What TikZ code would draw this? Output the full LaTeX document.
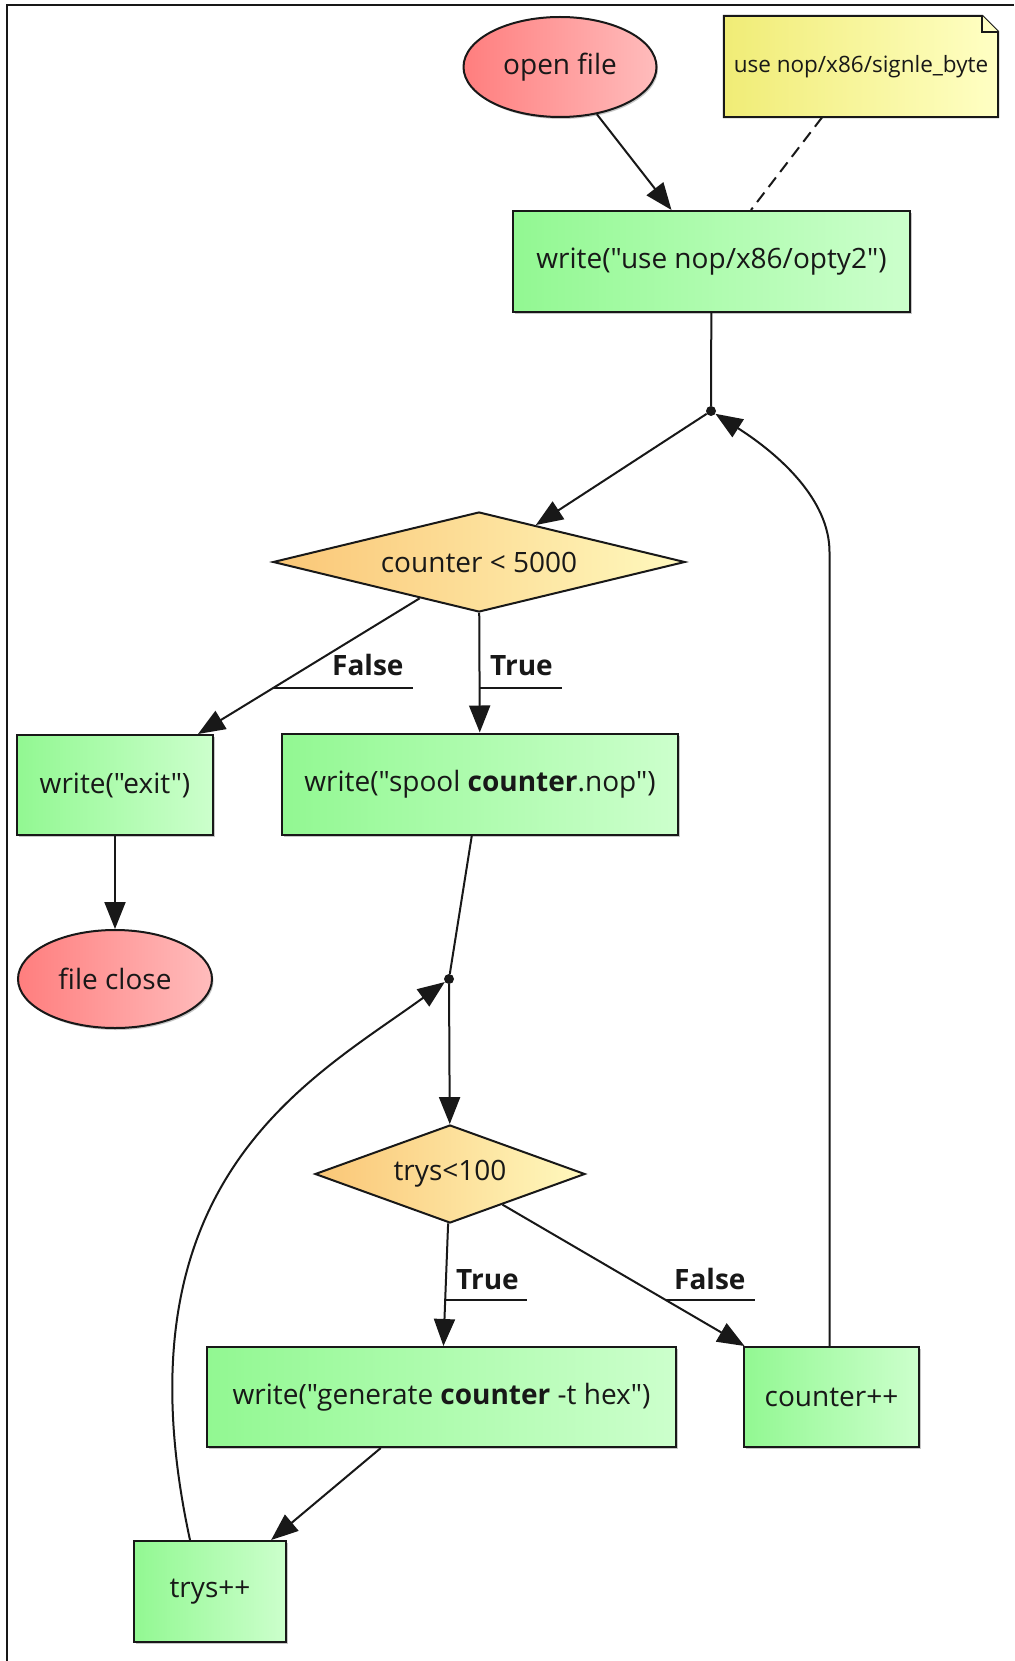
\documentclass[tikz,border=0pt]{standalone}
\usepackage{fontspec}
\setmainfont{Open Sans}[Ligatures=TeXOff]
\usetikzlibrary{shapes.geometric,arrows.meta,calc,backgrounds,shadows}

\definecolor{boxL}{RGB}{146,248,146}
\definecolor{boxR}{RGB}{204,255,204}
\definecolor{ellL}{RGB}{255,126,126}
\definecolor{ellR}{RGB}{255,188,188}
\definecolor{decL}{RGB}{250,198,118}
\definecolor{decR}{RGB}{255,249,190}
\definecolor{noteL}{RGB}{240,236,118}
\definecolor{noteR}{RGB}{255,255,196}
\definecolor{ink}{RGB}{24,24,24}

\tikzset{
  base/.style={draw=ink, line width=2pt, inner sep=0pt, text=ink,
    font=\fontsize{28}{33}\selectfont},
  softshadow/.style={drop shadow={shadow xshift=1.5pt, shadow yshift=-2pt,
    fill=black, opacity=0.22}},
  procbox/.style={base, rectangle, left color=boxL, right color=boxR,
    minimum height=100pt, softshadow},
  terminal/.style={base, ellipse, left color=ellL, right color=ellR,
    minimum width=193pt, minimum height=100pt, softshadow},
  decision/.style={base, diamond, left color=decL, right color=decR},
  notebox/.style={rectangle, inner sep=0pt, text=ink,
    font=\fontsize{22.5}{26}\selectfont, minimum width=274pt, minimum height=101pt},
  joint/.style={circle, fill=ink, inner sep=0pt, minimum size=10pt},
  plain/.style={line width=2pt, draw=ink},
  arr/.style={plain, -{Triangle[length=27pt,width=21pt]}},
  branch/.style={font=\bfseries\fontsize{28}{33}\selectfont, text=ink,
    anchor=base west, inner sep=0pt},
  uline/.style={line width=1.6pt, draw=ink},
}

\begin{document}
\begin{tikzpicture}[x=1pt, y=-1pt]
  % page
  \begin{scope}[on background layer]
    \fill[white] (0,0) rectangle (1014,1661);
  \end{scope}
  \useasboundingbox (0,0) rectangle (1014,1661);
  \draw[line width=2pt, ink] (7,1661) -- (7,5) -- (1014,5);

  % nodes
  \node[terminal] (open) at (560,67) {open file};
  \node[notebox] (note) at (861,66.5) {use nop/x86/signle\_byte};
  \node[procbox, minimum width=397pt, minimum height=101pt] (opty) at (711.5,261.5)
    {write("use nop/x86/opty2")};
  \node[joint] (d1) at (711,411) {};
  \node[decision, aspect=4.12, minimum width=412pt, minimum height=100pt] (c1)
    at (479,562) {counter < 5000};
  \node[procbox, minimum width=196pt] (exit) at (115,785) {write("exit")};
  \node[procbox, minimum width=396pt, minimum height=101pt] (spool) at (480,784)
    {write("spool \textbf{counter}.nop")};
  \node[terminal, minimum width=194pt, minimum height=98pt] (close) at (115,979)
    {file close};
  \node[joint] (d2) at (449,979) {};
  \node[decision, aspect=2.76, minimum width=270pt, minimum height=98pt] (c2)
    at (450,1174) {trys<100};
  \node[procbox, minimum width=469pt] (gen) at (441.5,1397)
    {write("generate \textbf{counter} -t hex")};
  \node[procbox, minimum width=175pt] (cpp) at (831.5,1397) {counter++};
  \node[procbox, minimum width=152pt, minimum height=101pt] (tpp) at (210,1591.5)
    {trys++};

  % note outline with folded corner
  \begin{scope}[on background layer]
    \fill[black, opacity=0.22, xshift=1.5pt, yshift=-2pt]
      (note.south west) -- (note.north west) -- ([xshift=-16pt]note.north east)
      -- ([yshift=-16pt]note.north east) -- (note.south east) -- cycle;
    \draw[line width=2pt, draw=ink, left color=noteL, right color=noteR]
      (note.south west) -- (note.north west) -- ([xshift=-16pt]note.north east)
      -- ([yshift=-16pt]note.north east) -- (note.south east) -- cycle;
    \draw[line width=1.6pt, draw=ink, fill=noteR]
      ([xshift=-16pt]note.north east) -- ([xshift=-16pt,yshift=-16pt]note.north east)
      -- ([yshift=-16pt]note.north east);
  \end{scope}

  % connectors
  \draw[arr] (open) -- (opty);
  \draw[plain, dash pattern=on 12pt off 7pt] (note) -- (opty);
  \draw[plain] (opty) -- (d1);
  \draw[arr] (d1) -- (c1);
  \draw[arr] (c1) -- (exit);
  \draw[arr] (c1) -- (spool);
  \draw[arr] (exit) -- (close);
  \draw[plain] (spool) -- (d2);
  \draw[arr] (d2) -- (c2);
  \draw[arr] (c2) -- (gen);
  \draw[arr] (c2) -- (cpp);
  \draw[arr] (gen) -- (tpp);
  \draw[arr] ([xshift=-2pt]cpp.north) -- ++(0,-794)
    .. controls ++(0,-52) and (780,455) .. (d1);
  \draw[arr] ([xshift=-20pt]tpp.north) .. controls (112,1180) and (310,1080) .. (d2);

  % branch labels
  \coordinate (f1) at ($(c1)!0.565!(exit)$);
  \node[branch] (lf1) at (332,675) {False};
  \coordinate (ef1) at ($(lf1.base east)+(9,0)$);
  \draw[uline] (f1) -- (f1 -| ef1);

  \coordinate (t1) at ($(c1)!0.5676!(spool)$);
  \node[branch] (lt1) at (490,675) {True};
  \coordinate (et1) at ($(lt1.base east)+(9,0)$);
  \draw[uline] (t1) -- (t1 -| et1);

  \coordinate (t2) at ($(c2)!0.565!(gen)$);
  \node[branch] (lt2) at (456,1289) {True};
  \coordinate (et2) at ($(lt2.base east)+(8,0)$);
  \draw[uline] (t2) -- (t2 -| et2);

  \coordinate (f2) at ($(c2)!0.565!(cpp)$);
  \node[branch] (lf2) at (674,1289) {False};
  \coordinate (ef2) at ($(lf2.base east)+(9,0)$);
  \draw[uline] (f2) -- (f2 -| ef2);
\end{tikzpicture}
\end{document}
